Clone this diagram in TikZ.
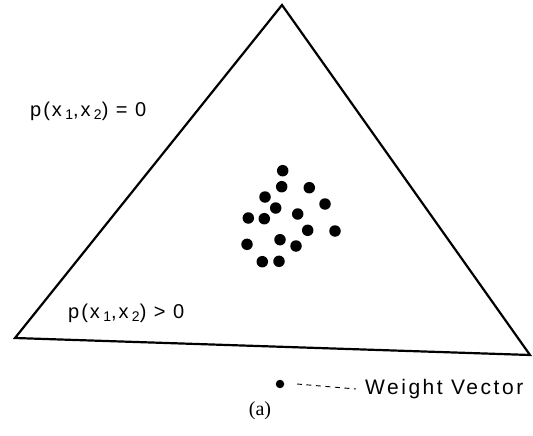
\documentclass[tikz,border=0pt]{standalone}
\usepackage{fontspec}
\setmainfont{Liberation Sans}
\newfontfamily\capserif{Liberation Serif}
\begin{document}
\begin{tikzpicture}[x=1pt,y=-1pt,
  edge/.style={line width=2.2pt,line join=miter},
  wdot/.style={circle,fill=black,inner sep=0pt,minimum size=11.5pt},
  ldot/.style={circle,fill=black,inner sep=0pt,minimum size=8.5pt},
  lbl/.style={inner sep=0pt,font=\fontsize{20}{22}\selectfont\addfontfeature{LetterSpace=10}},
  legend/.style={inner sep=0pt,font=\fontsize{21}{24}\selectfont\addfontfeature{LetterSpace=12}},
  dashline/.style={line width=0.9pt,dash pattern=on 5pt off 4.5pt}]
\useasboundingbox (0,0) rectangle (533,436);
\coordinate (apex) at (282,5);
\coordinate (bl) at (15,338);
\coordinate (br) at (530,355);
\draw[edge] (apex) -- (bl) -- (br) -- cycle;
\newcommand{\subsc}[1]{\,\raisebox{-0.35ex}{\fontsize{14}{15}\selectfont #1}}
\node[lbl,anchor=base west] (zero) at (30,116) {p(x\subsc{1},x\subsc{2}) = 0};
\node[lbl,anchor=base west] (pos) at (68,318) {p(x\subsc{1},x\subsc{2}) > 0};
\foreach \i/\x/\y in {1/282.7/170.7,2/281.7/186.7,3/309.3/187.7,4/265/197,
  5/325/204,6/275.7/208,7/297.7/214,8/248.3/218,9/264.3/218.7,10/307.7/230.3,
  11/335/231,12/247/244.3,13/280/239.7,14/296/246,15/262.3/261.7,16/279/261.3}
  \node[wdot] (d\i) at (\x,\y) {};
\node[ldot] (ld) at (280,384) {};
\node[legend,anchor=west] (wv) at (365,389) {Weight Vector};
\draw[dashline] ([xshift=17pt]ld.center) -- ([xshift=-9pt]wv.west);
\node[inner sep=0pt,font=\capserif\fontsize{20}{22}\selectfont] (cap) at (260,411) {(a)};
\end{tikzpicture}
\end{document}
